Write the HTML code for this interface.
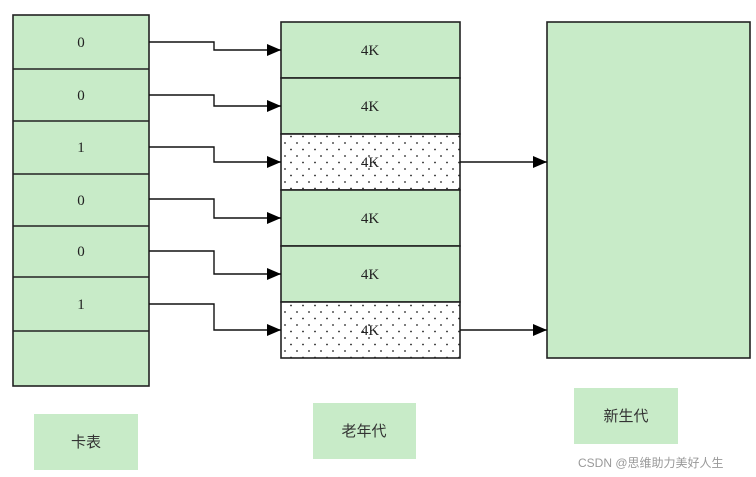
<!DOCTYPE html>
<html><head><meta charset="utf-8"><style>
body{margin:0;background:#fff;}
svg{display:block}
text{font-family:"Liberation Serif","Noto Serif CJK SC",serif;font-size:15px;fill:#222;}
.cn{font-family:"Liberation Sans","Noto Sans CJK SC",sans-serif;font-size:15px;fill:#333;}
</style></head><body>
<svg width="756" height="477" viewBox="0 0 756 477" xmlns="http://www.w3.org/2000/svg">
<defs>
<pattern id="dots" x="283" y="24" width="12" height="13" patternUnits="userSpaceOnUse">
<rect width="12" height="13" fill="#fff"/>
<circle cx="2" cy="2" r="0.9" fill="#222"/>
<circle cx="8" cy="8.5" r="0.9" fill="#222"/>
</pattern>
<marker id="ah" markerWidth="14" markerHeight="12" refX="14" refY="6" orient="auto" markerUnits="userSpaceOnUse">
<path d="M0,0 L14,6 L0,12 Z" fill="#000"/>
</marker>
</defs>
<g stroke="#222" stroke-width="1.6">
<rect x="13" y="15" width="136" height="371" fill="#c8ebc8"/>
<line x1="13" y1="69" x2="149" y2="69"/>
<line x1="13" y1="121" x2="149" y2="121"/>
<line x1="13" y1="174" x2="149" y2="174"/>
<line x1="13" y1="226" x2="149" y2="226"/>
<line x1="13" y1="277" x2="149" y2="277"/>
<line x1="13" y1="331" x2="149" y2="331"/>
<rect x="281" y="22" width="179" height="56" fill="#c8ebc8"/>
<rect x="281" y="78" width="179" height="56" fill="#c8ebc8"/>
<rect x="281" y="134" width="179" height="56" fill="url(#dots)"/>
<rect x="281" y="190" width="179" height="56" fill="#c8ebc8"/>
<rect x="281" y="246" width="179" height="56" fill="#c8ebc8"/>
<rect x="281" y="302" width="179" height="56" fill="url(#dots)"/>
<rect x="547" y="22" width="203" height="336" fill="#c8ebc8"/>
</g>
<g fill="none" stroke="#111" stroke-width="1.4">
<path d="M149,42 H214 V50 H281" marker-end="url(#ah)"/>
<path d="M149,95 H214 V106 H281" marker-end="url(#ah)"/>
<path d="M149,147 H214 V162 H281" marker-end="url(#ah)"/>
<path d="M149,199 H214 V218 H281" marker-end="url(#ah)"/>
<path d="M149,251 H214 V274 H281" marker-end="url(#ah)"/>
<path d="M149,304 H214 V330 H281" marker-end="url(#ah)"/>
<path d="M460,162 H547" marker-end="url(#ah)"/>
<path d="M460,330 H547" marker-end="url(#ah)"/>
</g>
<g text-anchor="middle">
<text x="81" y="47">0</text>
<text x="81" y="100">0</text>
<text x="81" y="152">1</text>
<text x="81" y="205">0</text>
<text x="81" y="256">0</text>
<text x="81" y="309">1</text>
<text x="370" y="55">4K</text>
<text x="370" y="111">4K</text>
<text x="370" y="167">4K</text>
<text x="370" y="223">4K</text>
<text x="370" y="279">4K</text>
<text x="370" y="335">4K</text>
</g>
<rect x="34" y="414" width="104" height="56" fill="#c8ebc8"/>
<rect x="313" y="403" width="103" height="56" fill="#c8ebc8"/>
<rect x="574" y="388" width="104" height="56" fill="#c8ebc8"/>
<g text-anchor="middle">
<text class="cn" x="86" y="447">卡表</text>
<text class="cn" x="364" y="436">老年代</text>
<text class="cn" x="626" y="421">新生代</text>
</g>
<text x="578" y="467" style="font-family:'Liberation Sans','Noto Sans CJK SC',sans-serif;font-size:12px;fill:#999">CSDN @思维助力美好人生</text>
</svg>
</body></html>
